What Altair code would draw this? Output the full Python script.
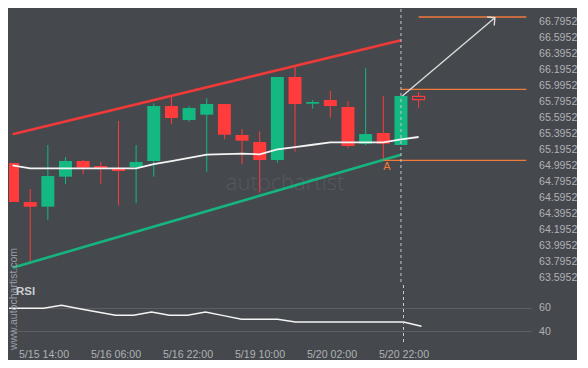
import json
import altair as alt
import pandas as pd

# ---------------- data ----------------
BG = "#45484d"
RED = "#ff3b3b"
GREEN = "#13b981"
ORANGE = "#f07a3a"
LABEL = "#aeb2b7"

idx = list(range(1, 25))
opens = [65.029, 64.541, 64.483, 64.858, 65.054, 64.991, 64.958, 64.979, 65.054, 65.741, 65.566, 65.633,
         65.766, 65.379, 65.291, 65.066, 66.104, 65.770, 65.816, 65.729, 65.270, 65.404, 65.254, 65.862]
highs = [65.030, 64.704, 65.254, 65.104, 65.066, 65.045, 65.554, 65.254, 65.775, 65.858, 65.741, 65.838,
         65.766, 65.454, 65.425, 66.104, 66.241, 65.816, 65.929, 65.804, 66.216, 65.866, 65.866, 65.916]
lows = [64.541, 63.791, 64.316, 64.763, 64.888, 64.763, 64.500, 64.525, 64.858, 65.513, 65.545, 64.920,
        65.325, 65.013, 64.658, 65.033, 65.170, 65.708, 65.595, 65.216, 65.250, 65.054, 65.254, 65.720]
closes = [64.541, 64.483, 64.866, 65.054, 64.970, 64.966, 64.929, 65.041, 65.741, 65.591, 65.716, 65.766,
          65.383, 65.308, 65.066, 66.104, 65.766, 65.791, 65.741, 65.241, 65.391, 65.270, 65.866, 65.820]
hollow = [0] * 23 + [1]
ma = [64.998, 64.963, 64.963, 64.963, 64.963, 64.963, 64.963, 64.963, 65.014, 65.052, 65.092, 65.134,
      65.139, 65.146, 65.138, 65.198, 65.228, 65.257, 65.287, 65.287, 65.287, 65.287, 65.323, 65.354]
rsi = [59.5, 59.5, 59.5, 62.1, 59.1, 56.3, 53.5, 53.5, 56.3, 53.5, 53.5, 56.3,
       53.2, 50.1, 50.1, 50.1, 47.7, 47.7, 47.7, 47.7, 47.7, 47.7, 47.7, 44.1]

tick_idx = [3, 7, 11, 15, 19, 23]
tick_labels = ["5/15 14:00", "5/16 06:00", "5/16 22:00", "5/19 10:00", "5/20 02:00", "5/20 22:00"]
price_ticks = [63.5952, 63.7952, 63.9952, 64.1952, 64.3952, 64.5952, 64.7952, 64.9952, 65.1952,
               65.3952, 65.5952, 65.7952, 65.9952, 66.1952, 66.3952, 66.5952, 66.7952, 66.9952]
rsi_ticks = [40, 60]

channel_x = [1, 23]
upper_y = [65.387, 66.562]
lower_y = [63.720, 65.133]

level_start = [24, 23, 22]
level_end = [30.1, 30.1, 30.1]
level_price = [66.854, 65.950, 65.063]

arrow_x = [23.08, 28.32]
arrow_y = [65.866, 66.845]

now_idx = [23]
point_a_x = [22.2]
point_a_y = [64.98]

X_DOMAIN = [1.0833, 30.139]
Y_DOMAIN = [63.504, 66.954]
RSI_DOMAIN = [30.6, 79.45]
W, H_MAIN, H_RSI = 523, 276, 57

# ---------------- frames ----------------
candles = pd.DataFrame({"i": idx, "open": opens, "high": highs, "low": lows, "close": closes,
                        "hollow": hollow})
candles["dir"] = ["up" if c >= o else "down" for o, c in zip(opens, closes)]
solid = candles[candles.hollow == 0]
holl = candles[candles.hollow == 1]
ma_df = pd.DataFrame({"i": idx, "ma": ma})
rsi_df = pd.DataFrame({"i": idx, "rsi": rsi})
up_df = pd.DataFrame({"i": channel_x, "p": upper_y})
lo_df = pd.DataFrame({"i": channel_x, "p": lower_y})
lvl_df = pd.DataFrame({"a": level_start, "b": level_end, "p": level_price})
arr_df = pd.DataFrame({"i": arrow_x, "p": arrow_y})
head_df = arr_df.iloc[[-1]]
now_df = pd.DataFrame({"i": now_idx})
a_df = pd.DataFrame({"i": point_a_x, "p": point_a_y, "t": ["A"]})

xs = alt.Scale(domain=X_DOMAIN, nice=False, zero=False)
ys = alt.Scale(domain=Y_DOMAIN, nice=False, zero=False)
col = alt.Color("dir:N", scale=alt.Scale(domain=["up", "down"], range=[GREEN, RED]), legend=None)


def X(f="i"):
    return alt.X(f"{f}:Q", scale=xs, axis=None)


def Y(f):
    return alt.Y(f"{f}:Q", scale=ys)


yaxis = alt.Axis(orient="right", values=price_ticks, tickCount=len(price_ticks), format=".4f",
                 domain=False, ticks=False, grid=False, labelColor=LABEL, labelFont="Liberation Sans",
                 labelFontSize=10.6, labelPadding=6.5, labelAlign="left", labelOverlap=False,
                 labelFlush=False, title=None)

base = alt.Chart(solid)

watermark = alt.Chart(now_df).mark_text(text="autochartist", font="Open Sans", fontWeight=300, fontSize=22,
                                        color="#56595f", align="center", baseline="alphabetic").encode(
    x=alt.value(276), y=alt.value(181))

wicks = base.mark_rule(strokeWidth=1, clip=True).encode(
    x=X(), y=alt.Y("low:Q", scale=ys, axis=yaxis), y2="high:Q", color=col)
bodies = base.mark_bar(size=13, clip=True).encode(
    x=X(), y=Y("open"), y2="close:Q", color=col)
hwicks = alt.Chart(holl).mark_rule(strokeWidth=1, color=RED, clip=True).encode(
    x=X(), y=Y("low"), y2="high:Q")
hbodies = alt.Chart(holl).mark_bar(size=12, fill=BG, stroke=RED, strokeWidth=1.2, clip=True).encode(
    x=X(), y=Y("open"), y2="close:Q")

ma_line = alt.Chart(ma_df).mark_line(color="#f4f4f4", strokeWidth=1.8, clip=True).encode(
    x=X(), y=Y("ma"))
upper = alt.Chart(up_df).mark_line(color="#f03a3a", strokeWidth=2.6, clip=True).encode(
    x=X(), y=Y("p"))
lower = alt.Chart(lo_df).mark_line(color="#16b47e", strokeWidth=2.6, clip=True).encode(
    x=X(), y=Y("p"))
levels = alt.Chart(lvl_df).mark_rule(color=ORANGE, strokeWidth=1.3, clip=True).encode(
    x=X("a"), x2="b:Q", y=Y("p"))
arrow = alt.Chart(arr_df).mark_line(color="#dcdcdc", strokeWidth=1.4, clip=True).encode(
    x=X(), y=Y("p"))
head = alt.Chart(head_df).mark_point(shape="M -1 1 L 0 0 L 1 1", size=120, angle=50, filled=False,
                                     color="#dcdcdc", strokeWidth=1.4, opacity=1).encode(
    x=X(), y=Y("p"))
now_main = alt.Chart(now_df).mark_rule(color="#c9ccd0", strokeWidth=1, strokeDash=[3, 3]).encode(
    x=X(), y=alt.value(0), y2=alt.value(H_MAIN))
a_text = alt.Chart(a_df).mark_text(color=ORANGE, font="Liberation Sans", fontSize=11,
                                   align="center", baseline="middle").encode(
    x=X(), y=Y("p"), text="t:N")

main = alt.layer(watermark, wicks, bodies, hwicks, hbodies, ma_line, upper, lower, levels,
                 arrow, head, now_main, a_text).properties(width=W, height=H_MAIN)

# ---------------- RSI panel ----------------
label_expr = f"{json.dumps(tick_labels)}[indexof({json.dumps(tick_idx)}, datum.value)]"
xaxis = alt.Axis(values=tick_idx, tickCount=len(tick_idx), labelExpr=label_expr, domain=False, ticks=False,
                 grid=False, labelColor=LABEL, labelFont="Liberation Sans", labelFontSize=10.6,
                 labelPadding=7, labelOverlap=False, labelFlush=False, title=None)
rs = alt.Scale(domain=RSI_DOMAIN, nice=False, zero=False)
raxis = alt.Axis(orient="right", values=rsi_ticks, tickCount=len(rsi_ticks), domain=False, ticks=False,
                 grid=True, gridColor="#5c5f64", gridWidth=1, labelColor=LABEL, labelFont="Liberation Sans",
                 labelFontSize=10.6, labelPadding=6.5, labelAlign="left", title=None)

rsi_line = alt.Chart(rsi_df).mark_line(color="#f4f4f4", strokeWidth=1.5, clip=True).encode(
    x=alt.X("i:Q", scale=xs, axis=xaxis), y=alt.Y("rsi:Q", scale=rs, axis=raxis))
now_rsi = alt.Chart(now_df).mark_rule(color="#c9ccd0", strokeWidth=1, strokeDash=[3, 3]).encode(
    x=alt.X("i:Q", scale=xs), y=alt.value(0), y2=alt.value(H_RSI))
rsi_title = alt.Chart(now_df).mark_text(text="RSI", font="Liberation Sans", fontWeight="bold", fontSize=11.5,
                                        color="#c9ccd0", align="left", baseline="middle").encode(
    x=alt.value(7), y=alt.value(7))
site = alt.Chart(now_df).mark_text(text="www.autochartist.com", font="Liberation Sans", fontSize=10.5,
                                   angle=270, color="#9a9ea4", align="center", baseline="middle").encode(
    x=alt.value(5), y=alt.value(14))

rsi_panel = alt.layer(rsi_line, now_rsi, site, rsi_title).properties(width=W, height=H_RSI)

chart = alt.vconcat(main, rsi_panel, spacing=0, bounds="flush").properties(padding=0).configure(
    background=BG).configure_view(stroke=None)

chart.save("out.html", embed_options={"renderer": "svg", "actions": False})
